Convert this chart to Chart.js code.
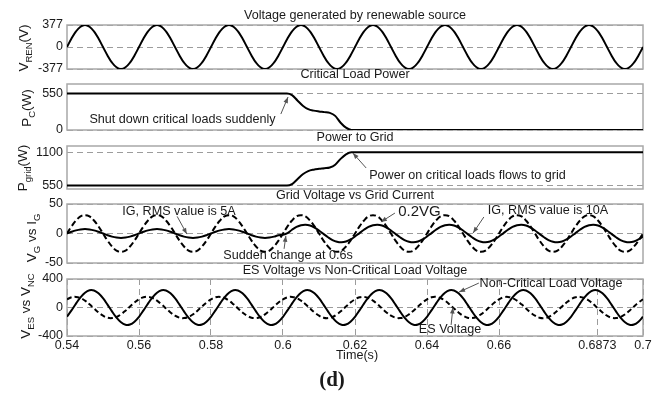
<!DOCTYPE html>
<html><head><meta charset="utf-8">
<script src="https://cdn.jsdelivr.net/npm/chart.js@4.4.1/dist/chart.umd.min.js"></script>
<style>
html,body{margin:0;padding:0;background:#fff;}
#wrap{position:relative;width:662px;height:397px;overflow:hidden;background:#fff;}
canvas{position:absolute;left:0;top:0;}
</style></head><body><div id="wrap">
<canvas id="c1" width="662" height="397"></canvas>
<canvas id="c2" width="662" height="397"></canvas>
<canvas id="c3" width="662" height="397"></canvas>
<canvas id="c4" width="662" height="397"></canvas>
<canvas id="c5" width="662" height="397"></canvas>
</div>
<script>
// ---------- data ----------
const t = [
0.54,0.54125,0.5425,0.54375,0.545,0.54625,0.5475,0.54875,0.55,0.55125,0.5525,0.55375,0.555,0.55625,0.5575,0.55875,
0.56,0.56125,0.5625,0.56375,0.565,0.56625,0.5675,0.56875,0.57,0.57125,0.5725,0.57375,0.575,0.57625,0.5775,0.57875,
0.58,0.58125,0.5825,0.58375,0.585,0.58625,0.5875,0.58875,0.59,0.59125,0.5925,0.59375,0.595,0.59625,0.5975,0.59875,
0.6,0.60125,0.6025,0.60375,0.605,0.60625,0.6075,0.60875,0.61,0.61125,0.6125,0.61375,0.615,0.61625,0.6175,0.61875,
0.62,0.62125,0.6225,0.62375,0.625,0.62625,0.6275,0.62875,0.63,0.63125,0.6325,0.63375,0.635,0.63625,0.6375,0.63875,
0.64,0.64125,0.6425,0.64375,0.645,0.64625,0.6475,0.64875,0.65,0.65125,0.6525,0.65375,0.655,0.65625,0.6575,0.65875,
0.66,0.66125,0.6625,0.66375,0.665,0.66625,0.6675,0.66875,0.67,0.67125,0.6725,0.67375,0.675,0.67625,0.6775,0.67875,
0.68,0.68125,0.6825,0.68375,0.685,0.68625,0.6875,0.68875,0.69,0.69125,0.6925,0.69375,0.695,0.69625,0.6975,0.69875,
0.7];

const vRen = [
0,144,267,348,377,348,267,144,0,-144,-267,-348,-377,-348,-267,-144,
0,144,267,348,377,348,267,144,0,-144,-267,-348,-377,-348,-267,-144,
0,144,267,348,377,348,267,144,0,-144,-267,-348,-377,-348,-267,-144,
0,144,267,348,377,348,267,144,0,-144,-267,-348,-377,-348,-267,-144,
0,144,267,348,377,348,267,144,0,-144,-267,-348,-377,-348,-267,-144,
0,144,267,348,377,348,267,144,0,-144,-267,-348,-377,-348,-267,-144,
0,144,267,348,377,348,267,144,0,-144,-267,-348,-377,-348,-267,-144,
0,144,267,348,377,348,267,144,0,-144,-267,-348,-377,-348,-267,-144,
0];

const vG02 = [
0,12,22,29,31,29,22,12,0,-12,-22,-29,-31,-29,-22,-12,
0,12,22,29,31,29,22,12,0,-12,-22,-29,-31,-29,-22,-12,
0,12,22,29,31,29,22,12,0,-12,-22,-29,-31,-29,-22,-12,
0,12,22,29,31,29,22,12,0,-12,-22,-29,-31,-29,-22,-12,
0,12,22,29,31,29,22,12,0,-12,-22,-29,-31,-29,-22,-12,
0,12,22,29,31,29,22,12,0,-12,-22,-29,-31,-29,-22,-12,
0,12,22,29,31,29,22,12,0,-12,-22,-29,-31,-29,-22,-12,
0,12,22,29,31,29,22,12,0,-12,-22,-29,-31,-29,-22,-12,
0];

const iG = [
0,2.9,5.3,6.9,7.5,6.9,5.3,2.9,0,-2.9,-5.3,-6.9,-7.5,-6.9,-5.3,-2.9,
0,2.9,5.3,6.9,7.5,6.9,5.3,2.9,0,-2.9,-5.3,-6.9,-7.5,-6.9,-5.3,-2.9,
0,2.9,5.3,6.9,7.5,6.9,5.3,2.9,0,-2.9,-5.3,-6.9,-7.5,-6.9,-5.3,-2.9,
-2,0.7,6.3,11.1,14.1,15,13.6,10.1,5.1,-0.7,-6.3,-11.1,-14.1,-15,-13.6,-10.1,
-5.1,0.7,6.3,11.1,14.1,15,13.6,10.1,5.1,-0.7,-6.3,-11.1,-14.1,-15,-13.6,-10.1,
-5.1,0.7,6.3,11.1,14.1,15,13.6,10.1,5.1,-0.7,-6.3,-11.1,-14.1,-15,-13.6,-10.1,
-5.1,0.7,6.3,11.1,14.1,15,13.6,10.1,5.1,-0.7,-6.3,-11.1,-14.1,-15,-13.6,-10.1,
-5.1,0.7,6.3,11.1,14.1,15,13.6,10.1,5.1,-0.7,-6.3,-11.1,-14.1,-15,-13.6,-10.1,
-5.1];

const vEs = [
115,143,149,133,96,45,-13,-69,-115,-143,-149,-133,-96,-45,13,69,
115,143,149,133,96,45,-13,-69,-115,-143,-149,-133,-96,-45,13,69,
115,143,149,133,96,45,-13,-69,-115,-143,-149,-133,-96,-45,13,69,
115,143,149,133,96,45,-13,-69,-115,-143,-149,-133,-96,-45,13,69,
115,143,149,133,96,45,-13,-69,-115,-143,-149,-133,-96,-45,13,69,
115,143,149,133,96,45,-13,-69,-115,-143,-149,-133,-96,-45,13,69,
115,143,149,133,96,45,-13,-69,-115,-143,-149,-133,-96,-45,13,69,
115,143,149,133,96,45,-13,-69,-115,-143,-149,-133,-96,-45,13,69,
115];

const vNc = [
-130,-40,55,142,208,242,239,199,130,40,-55,-142,-208,-242,-239,-199,
-130,-40,55,142,208,242,239,199,130,40,-55,-142,-208,-242,-239,-199,
-130,-40,55,142,208,242,239,199,130,40,-55,-142,-208,-242,-239,-199,
-130,-40,55,142,208,242,239,199,130,40,-55,-142,-208,-242,-239,-199,
-130,-40,55,142,208,242,239,199,130,40,-55,-142,-208,-242,-239,-199,
-130,-40,55,142,208,242,239,199,130,40,-55,-142,-208,-242,-239,-199,
-130,-40,55,142,208,242,239,199,130,40,-55,-142,-208,-242,-239,-199,
-130,-40,55,142,208,242,239,199,130,40,-55,-142,-208,-242,-239,-199,
-130];

const tPow  = [0.54, 0.6011, 0.6025, 0.604, 0.6055, 0.607, 0.6085, 0.61, 0.6115, 0.613, 0.6145, 0.616, 0.6175, 0.619, 0.7];
const pCrit = [555, 555, 530, 450, 370, 318, 295, 282, 272, 260, 215, 110, 35, 0, 0];
const pGrid = [555, 555, 580, 660, 740, 792, 815, 828, 838, 850, 895, 990, 1065, 1100, 1100];

const xTickVals   = [0.54, 0.56, 0.58, 0.6, 0.62, 0.64, 0.66, 0.6873, 0.7];
const xTickLabels = ['0.54','0.56','0.58','0.6','0.62','0.64','0.66','0.6873','0.7'];
const yTicks1 = [-377, 0, 377];
const yTicks2 = [0, 550];
const yTicks3 = [550, 1100];
const yTicks4 = [-50, 0, 50];
const yTicks5 = [-400, 0, 400];

// ---------- drawing ----------
const FONT = '"Liberation Sans", Arial, Helvetica, sans-serif';
const TXT = '#1a1a1a';
const GRID = '#9c9c9c';
const W = 662, H = 397, PLOT_L = 67, PLOT_R = 643;
const YL_MAIN = '13.5px ', YL_SUB = '9.5px ';

function pts(xs, ys){ return xs.map((x,i)=>({x:x, y:ys[i]})); }

function drawArrow(ctx,x1,y1,x2,y2){
  ctx.save();
  ctx.strokeStyle='#555'; ctx.fillStyle='#555'; ctx.lineWidth=1;
  ctx.beginPath(); ctx.moveTo(x1,y1); ctx.lineTo(x2,y2); ctx.stroke();
  const a=Math.atan2(y2-y1,x2-x1), L=6, Wd=2.3;
  ctx.beginPath(); ctx.moveTo(x2,y2);
  ctx.lineTo(x2-L*Math.cos(a)+Wd*Math.sin(a), y2-L*Math.sin(a)-Wd*Math.cos(a));
  ctx.lineTo(x2-L*Math.cos(a)-Wd*Math.sin(a), y2-L*Math.sin(a)+Wd*Math.cos(a));
  ctx.closePath(); ctx.fill();
  ctx.restore();
}

function decoPlugin(cfg){
  return {
    id:'deco',
    beforeDatasetsDraw(chart){
      const {ctx, chartArea:a} = chart;
      ctx.save(); ctx.strokeStyle='#a8a8a8'; ctx.lineWidth=1.5;
      ctx.strokeRect(a.left, a.top, a.right-a.left, a.bottom-a.top);
      ctx.restore();
    },
    afterDraw(chart){
      const ctx=chart.ctx, a=chart.chartArea, xs=chart.scales.x, ys=chart.scales.y;
      ctx.save();
      ctx.fillStyle=TXT; ctx.textAlign='center'; ctx.textBaseline='middle';
      ctx.font='12.6px '+FONT;
      ctx.fillText(cfg.title, (a.left+a.right)/2, cfg.titleY);
      // rotated y label with subscripts
      const parts = cfg.ylabel;
      let total=0;
      parts.forEach(p=>{ ctx.font=(p[1]?YL_SUB:YL_MAIN)+FONT; total+=ctx.measureText(p[0]).width; });
      ctx.save();
      ctx.translate(cfg.ylabelX, cfg.ylabelY);
      ctx.rotate(-Math.PI/2);
      ctx.textAlign='left'; ctx.textBaseline='alphabetic';
      let px=-total/2;
      parts.forEach(p=>{ ctx.font=(p[1]?YL_SUB:YL_MAIN)+FONT; ctx.fillText(p[0], px, p[1]?3.5:0); px+=ctx.measureText(p[0]).width; });
      ctx.restore();
      (cfg.arrows||[]).forEach(r=>drawArrow(ctx, xs.getPixelForValue(r[0]), ys.getPixelForValue(r[1]), xs.getPixelForValue(r[2]), ys.getPixelForValue(r[3])));
      ctx.fillStyle=TXT; ctx.textAlign='center'; ctx.textBaseline='middle';
      (cfg.texts||[]).forEach(s=>{ ctx.font=(s.size||12.6)+'px '+FONT; ctx.fillText(s.text, xs.getPixelForValue(s.x), ys.getPixelForValue(s.y)); });
      if (cfg.extra) cfg.extra(ctx);
      ctx.restore();
    }
  };
}

function makeChart(id, cfg){
  const xAxisH = cfg.xAxis ? 20 : 0;
  const yTicks = cfg.yTicks;
  new Chart(document.getElementById(id), {
    type:'line',
    data:{datasets:cfg.datasets},
    options:{
      responsive:false, animation:false, events:[],
      layout:{padding:{left:0, right:W-PLOT_R, top:cfg.top, bottom:H-cfg.bottom-xAxisH}},
      plugins:{legend:{display:false}, tooltip:{enabled:false}, title:{display:false}},
      scales:{
        x:{type:'linear', min:0.54, max:0.7, display:!!cfg.xAxis,
           afterBuildTicks:s=>{ s.ticks = xTickVals.map(v=>({value:v})); },
           afterFit:s=>{ s.height = xAxisH; },
           ticks:{autoSkip:false, maxRotation:0, padding:2, color:TXT, font:{family:FONT, size:12.5},
                  callback:(v,i)=>xTickLabels[i]},
           grid:{color:GRID, lineWidth:1, drawTicks:false},
           border:{display:false, dash:[6,4]}},
        y:{type:'linear', min:cfg.yMin, max:cfg.yMax,
           afterBuildTicks:s=>{ s.ticks = yTicks.map(v=>({value:v})); },
           afterFit:s=>{ s.width = PLOT_L; },
           ticks:{padding:4, color:TXT, font:{family:FONT, size:12.5}, callback:v=>String(v)},
           grid:{color:GRID, lineWidth:1, drawTicks:false},
           border:{display:false, dash:[6,4]}}
      }
    },
    plugins:[decoPlugin(cfg)]
  });
}

const solid = {borderColor:'#000', borderWidth:2, pointRadius:0, tension:0.4, fill:false};
const dashed = Object.assign({}, solid, {borderDash:[6,3]});

makeChart('c1', {top:25, bottom:69, yMin:-377, yMax:377, yTicks:yTicks1,
  datasets:[Object.assign({data:pts(t, vRen)}, solid)],
  title:'Voltage generated by renewable source', titleY:16,
  ylabel:[['V',0],['REN',1],['(V)',0]], ylabelX:28, ylabelY:48});

makeChart('c2', {top:84, bottom:130, yMin:0, yMax:700, yTicks:yTicks2,
  datasets:[Object.assign({data:pts(tPow, pCrit)}, solid, {tension:0, cubicInterpolationMode:'monotone'})],
  title:'Critical Load Power', titleY:75,
  ylabel:[['P',0],['C',1],['(W)',0]], ylabelX:31, ylabelY:108,
  texts:[{x:0.5721, y:167, text:'Shut down critical loads suddenly'}],
  arrows:[[0.5994, 243, 0.6014, 502]]});

makeChart('c3', {top:146, bottom:189, yMin:500, yMax:1200, yTicks:yTicks3,
  datasets:[Object.assign({data:pts(tPow, pGrid)}, solid, {tension:0, cubicInterpolationMode:'monotone'})],
  title:'Power to Grid', titleY:138,
  ylabel:[['P',0],['grid',1],['(W)',0]], ylabelX:27, ylabelY:168,
  texts:[{x:0.65125, y:712, text:'Power on critical loads flows to grid'}],
  arrows:[[0.6231, 842, 0.6194, 1086]]});

makeChart('c4', {top:204, bottom:263, yMin:-50, yMax:50, yTicks:yTicks4,
  datasets:[Object.assign({data:pts(t, vG02)}, dashed), Object.assign({data:pts(t, iG)}, solid)],
  title:'Grid Voltage vs Grid Current', titleY:196,
  ylabel:[['V',0],['G',1],[' vs I',0],['G',1]], ylabelX:36, ylabelY:238,
  texts:[{x:0.57111, y:38, text:'IG, RMS value is 5A'},
         {x:0.63792, y:36, text:'0.2VG', size:15},
         {x:0.67361, y:39.8, text:'IG, RMS value is 10A'},
         {x:0.60139, y:-38, text:'Sudden change at 0.6s'}],
  arrows:[[0.5706, 29, 0.5733, -1],
          [0.6311, 34.7, 0.6272, 19.5],
          [0.6558, 28, 0.6528, 0.8],
          [0.6003, -26, 0.6008, -4]]});

makeChart('c5', {top:279, bottom:336, yMin:-400, yMax:400, yTicks:yTicks5, xAxis:true,
  datasets:[Object.assign({data:pts(t, vEs)}, dashed, {borderDash:[5,3]}), Object.assign({data:pts(t, vNc)}, solid)],
  title:'ES Voltage vs Non-Critical Load Voltage', titleY:271,
  ylabel:[['V',0],['ES',1],[' vs V',0],['NC',1]], ylabelX:30, ylabelY:306,
  texts:[{x:0.67444, y:339, text:'Non-Critical Load Voltage'},
         {x:0.64639, y:-316, text:'ES Voltage'}],
  arrows:[[0.6544, 343, 0.6489, 217],
          [0.6467, -245, 0.6472, 0]],
  extra:(ctx)=>{
    ctx.fillStyle=TXT; ctx.textAlign='center'; ctx.textBaseline='middle';
    ctx.font='12.6px '+FONT; ctx.fillText('Time(s)', 357, 356);
    ctx.font='bold 21px "Liberation Serif", "Times New Roman", serif'; ctx.fillText('(d)', 332, 381);
  }});
</script>
</body></html>
